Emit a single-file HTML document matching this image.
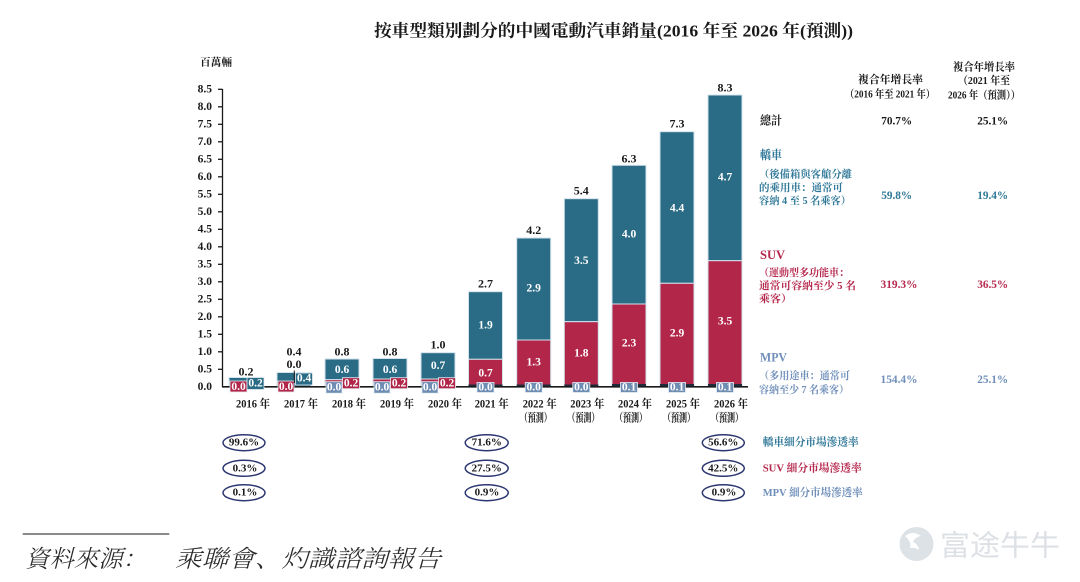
<!DOCTYPE html>
<html><head><meta charset="utf-8">
<style>
html,body{margin:0;padding:0;background:#fff;}
svg{display:block;}
text{font-family:"Liberation Serif","Noto Serif CJK SC","Noto Serif CJK TC",serif;}
.b{font-weight:bold;}
</style></head>
<body>
<svg width="1080" height="582" viewBox="0 0 1080 582" xmlns="http://www.w3.org/2000/svg">
<rect width="1080" height="582" fill="#fff"/>

<!-- Title -->
<text x="374" y="31" class="b" font-size="17" fill="#1a1a1a" dominant-baseline="central" textLength="479" lengthAdjust="spacingAndGlyphs">按車型類別劃分的中國電動汽車銷量(2016 年至 2026 年(預測))</text>

<!-- Unit -->
<text x="200" y="63" class="b" font-size="10.5" fill="#1a1a1a" dominant-baseline="central" textLength="32" lengthAdjust="spacingAndGlyphs">百萬輛</text>

<!-- Y axis -->
<g font-size="11.5" class="b" fill="#1a1a1a" text-anchor="end">
<text x="212" y="89.3" dominant-baseline="central">8.5</text>
<text x="212" y="106.8" dominant-baseline="central">8.0</text>
<text x="212" y="124.3" dominant-baseline="central">7.5</text>
<text x="212" y="141.8" dominant-baseline="central">7.0</text>
<text x="212" y="159.3" dominant-baseline="central">6.5</text>
<text x="212" y="176.8" dominant-baseline="central">6.0</text>
<text x="212" y="194.3" dominant-baseline="central">5.5</text>
<text x="212" y="211.8" dominant-baseline="central">5.0</text>
<text x="212" y="229.3" dominant-baseline="central">4.5</text>
<text x="212" y="246.8" dominant-baseline="central">4.0</text>
<text x="212" y="264.3" dominant-baseline="central">3.5</text>
<text x="212" y="281.8" dominant-baseline="central">3.0</text>
<text x="212" y="299.3" dominant-baseline="central">2.5</text>
<text x="212" y="316.8" dominant-baseline="central">2.0</text>
<text x="212" y="334.3" dominant-baseline="central">1.5</text>
<text x="212" y="351.8" dominant-baseline="central">1.0</text>
<text x="212" y="369.3" dominant-baseline="central">0.5</text>
<text x="212" y="386.8" dominant-baseline="central">0.0</text>
</g>
<g stroke="#1a1a1a" stroke-width="1.3">
<line x1="222.5" y1="89" x2="222.5" y2="387"/>
<line x1="218" y1="89.3" x2="222.5" y2="89.3"/>
<line x1="218" y1="106.8" x2="222.5" y2="106.8"/>
<line x1="218" y1="124.3" x2="222.5" y2="124.3"/>
<line x1="218" y1="141.8" x2="222.5" y2="141.8"/>
<line x1="218" y1="159.3" x2="222.5" y2="159.3"/>
<line x1="218" y1="176.8" x2="222.5" y2="176.8"/>
<line x1="218" y1="194.3" x2="222.5" y2="194.3"/>
<line x1="218" y1="211.8" x2="222.5" y2="211.8"/>
<line x1="218" y1="229.3" x2="222.5" y2="229.3"/>
<line x1="218" y1="246.8" x2="222.5" y2="246.8"/>
<line x1="218" y1="264.3" x2="222.5" y2="264.3"/>
<line x1="218" y1="281.8" x2="222.5" y2="281.8"/>
<line x1="218" y1="299.3" x2="222.5" y2="299.3"/>
<line x1="218" y1="316.8" x2="222.5" y2="316.8"/>
<line x1="218" y1="334.3" x2="222.5" y2="334.3"/>
<line x1="218" y1="351.8" x2="222.5" y2="351.8"/>
<line x1="218" y1="369.3" x2="222.5" y2="369.3"/>
</g>

<!-- Bars -->
<g stroke="#d3e3ec" stroke-width="1">
<!-- 2016 -->
<rect x="229" y="377.5" width="34" height="9.2" fill="#2a6b86"/>
<!-- 2017 -->
<rect x="277" y="372.5" width="34" height="14.2" fill="#2a6b86"/>
<!-- 2018 -->
<rect x="325" y="359" width="34" height="20.7" fill="#2a6b86"/>
<rect x="325" y="379.7" width="34" height="7" fill="#b2264a"/>
<!-- 2019 -->
<rect x="373" y="358.5" width="34" height="20.5" fill="#2a6b86"/>
<rect x="373" y="379" width="34" height="7.7" fill="#b2264a"/>
<!-- 2020 -->
<rect x="421" y="352.7" width="34" height="26.3" fill="#2a6b86"/>
<rect x="421" y="379" width="34" height="7.7" fill="#b2264a"/>
<!-- 2021 -->
<rect x="468.5" y="291.7" width="34" height="67.6" fill="#2a6b86"/>
<rect x="468.5" y="359.3" width="34" height="27.4" fill="#b2264a"/>
<!-- 2022 -->
<rect x="516.7" y="238" width="34" height="102" fill="#2a6b86"/>
<rect x="516.7" y="340" width="34" height="46.7" fill="#b2264a"/>
<!-- 2023 -->
<rect x="564.3" y="198.7" width="34" height="123" fill="#2a6b86"/>
<rect x="564.3" y="321.7" width="34" height="65" fill="#b2264a"/>
<!-- 2024 -->
<rect x="612" y="165.3" width="34" height="138.7" fill="#2a6b86"/>
<rect x="612" y="304" width="34" height="82.7" fill="#b2264a"/>
<!-- 2025 -->
<rect x="660" y="131.7" width="34" height="151.6" fill="#2a6b86"/>
<rect x="660" y="283.3" width="34" height="103.4" fill="#b2264a"/>
<!-- 2026 -->
<rect x="708" y="95" width="34" height="165.7" fill="#2a6b86"/>
<rect x="708" y="260.7" width="34" height="126" fill="#b2264a"/>
</g>
<!-- dark MPV strips -->
<g fill="#1f2a3a">
<rect x="468.5" y="384.5" width="34" height="2.5"/>
<rect x="516.7" y="384.5" width="34" height="2.5"/>
<rect x="564.3" y="384.5" width="34" height="2.5"/>
<rect x="612" y="384" width="34" height="3"/>
<rect x="660" y="384" width="34" height="3"/>
<rect x="708" y="384" width="34" height="3"/>
</g>
<!-- baseline -->
<line x1="222" y1="386.8" x2="748" y2="386.8" stroke="#1a1a1a" stroke-width="1.6"/>

<!-- small label boxes -->
<g stroke="#e6eef3" stroke-width="0.8">
<rect x="230" y="381" width="17" height="11" fill="#b2264a"/>
<rect x="247" y="377.5" width="17" height="12" fill="#2a6b86"/>
<rect x="278" y="381" width="16" height="11" fill="#b2264a"/>
<rect x="295.5" y="373" width="17" height="12" fill="#2a6b86"/>
<rect x="326" y="381.7" width="16" height="11.5" fill="#6f8db3"/>
<rect x="342.5" y="377.7" width="17" height="11" fill="#b2264a"/>
<rect x="374" y="381.7" width="16" height="11.5" fill="#6f8db3"/>
<rect x="390.5" y="377.7" width="17" height="11" fill="#b2264a"/>
<rect x="422" y="381.7" width="16" height="11.5" fill="#6f8db3"/>
<rect x="438.5" y="377.7" width="17" height="11" fill="#b2264a"/>
<rect x="477" y="382.5" width="17" height="10" fill="#6f8db3"/>
<rect x="525.2" y="382.5" width="17" height="10" fill="#6f8db3"/>
<rect x="572.8" y="382.5" width="17" height="10" fill="#6f8db3"/>
<rect x="620.5" y="382.5" width="17" height="10" fill="#6f8db3"/>
<rect x="668.5" y="382.5" width="17" height="10" fill="#6f8db3"/>
<rect x="716.5" y="382.5" width="17" height="10" fill="#6f8db3"/>
</g>
<line x1="294.3" y1="370.5" x2="294.3" y2="383" stroke="#1a1a1a" stroke-width="1"/>

<!-- white inner labels -->
<g class="b" font-size="11.5" fill="#fff" text-anchor="middle">
<text x="238.5" y="386.8" dominant-baseline="central">0.0</text>
<text x="255.5" y="383.5" dominant-baseline="central">0.2</text>
<text x="286" y="386.8" dominant-baseline="central">0.0</text>
<text x="304" y="378.5" dominant-baseline="central">0.4</text>
<text x="342" y="370" dominant-baseline="central">0.6</text>
<text x="334" y="387.5" dominant-baseline="central">0.0</text>
<text x="351" y="383.3" dominant-baseline="central">0.2</text>
<text x="390" y="370" dominant-baseline="central">0.6</text>
<text x="382" y="387.5" dominant-baseline="central">0.0</text>
<text x="399" y="383.3" dominant-baseline="central">0.2</text>
<text x="438" y="366" dominant-baseline="central">0.7</text>
<text x="430" y="387.5" dominant-baseline="central">0.0</text>
<text x="447" y="383.3" dominant-baseline="central">0.2</text>
<text x="485.5" y="325.7" dominant-baseline="central">1.9</text>
<text x="485.5" y="373.3" dominant-baseline="central">0.7</text>
<text x="485.5" y="387.5" dominant-baseline="central">0.0</text>
<text x="533.7" y="288.3" dominant-baseline="central">2.9</text>
<text x="533.7" y="362.7" dominant-baseline="central">1.3</text>
<text x="533.7" y="387.5" dominant-baseline="central">0.0</text>
<text x="581.3" y="261" dominant-baseline="central">3.5</text>
<text x="581.3" y="353.3" dominant-baseline="central">1.8</text>
<text x="581.3" y="387.5" dominant-baseline="central">0.0</text>
<text x="629" y="234.3" dominant-baseline="central">4.0</text>
<text x="629" y="343.3" dominant-baseline="central">2.3</text>
<text x="629" y="387.5" dominant-baseline="central">0.1</text>
<text x="677" y="208.3" dominant-baseline="central">4.4</text>
<text x="677" y="333.3" dominant-baseline="central">2.9</text>
<text x="677" y="387.5" dominant-baseline="central">0.1</text>
<text x="725" y="177.7" dominant-baseline="central">4.7</text>
<text x="725" y="321.7" dominant-baseline="central">3.5</text>
<text x="725" y="387.5" dominant-baseline="central">0.1</text>
</g>

<!-- totals -->
<g class="b" font-size="12" fill="#1a1a1a" text-anchor="middle">
<text x="246" y="371.7" dominant-baseline="central">0.2</text>
<text x="294" y="351.7" dominant-baseline="central">0.4</text>
<text x="294" y="364" dominant-baseline="central">0.0</text>
<text x="342" y="351.7" dominant-baseline="central">0.8</text>
<text x="390" y="351.7" dominant-baseline="central">0.8</text>
<text x="438" y="344.3" dominant-baseline="central">1.0</text>
<text x="485.5" y="283.3" dominant-baseline="central">2.7</text>
<text x="533.7" y="230" dominant-baseline="central">4.2</text>
<text x="581.3" y="190.7" dominant-baseline="central">5.4</text>
<text x="629" y="158.7" dominant-baseline="central">6.3</text>
<text x="677" y="123.3" dominant-baseline="central">7.3</text>
<text x="725" y="87.3" dominant-baseline="central">8.3</text>
</g>

<!-- x labels -->
<g class="b" font-size="11.5" fill="#1a1a1a" text-anchor="middle">
<text x="253" y="404.3" dominant-baseline="central" textLength="34" lengthAdjust="spacingAndGlyphs">2016 年</text>
<text x="301" y="404.3" dominant-baseline="central" textLength="34" lengthAdjust="spacingAndGlyphs">2017 年</text>
<text x="349" y="404.3" dominant-baseline="central" textLength="34" lengthAdjust="spacingAndGlyphs">2018 年</text>
<text x="397" y="404.3" dominant-baseline="central" textLength="34" lengthAdjust="spacingAndGlyphs">2019 年</text>
<text x="445" y="404.3" dominant-baseline="central" textLength="34" lengthAdjust="spacingAndGlyphs">2020 年</text>
<text x="491.7" y="404.3" dominant-baseline="central" textLength="34" lengthAdjust="spacingAndGlyphs">2021 年</text>
<text x="539.7" y="404.3" dominant-baseline="central" textLength="34" lengthAdjust="spacingAndGlyphs">2022 年</text>
<text x="587.3" y="404.3" dominant-baseline="central" textLength="34" lengthAdjust="spacingAndGlyphs">2023 年</text>
<text x="635" y="404.3" dominant-baseline="central" textLength="34" lengthAdjust="spacingAndGlyphs">2024 年</text>
<text x="683" y="404.3" dominant-baseline="central" textLength="34" lengthAdjust="spacingAndGlyphs">2025 年</text>
<text x="731" y="404.3" dominant-baseline="central" textLength="34" lengthAdjust="spacingAndGlyphs">2026 年</text>
<text x="535.8" y="418.3" dominant-baseline="central" textLength="32" lengthAdjust="spacingAndGlyphs">（預測）</text>
<text x="583.4" y="418.3" dominant-baseline="central" textLength="32" lengthAdjust="spacingAndGlyphs">（預測）</text>
<text x="631" y="418.3" dominant-baseline="central" textLength="32" lengthAdjust="spacingAndGlyphs">（預測）</text>
<text x="679" y="418.3" dominant-baseline="central" textLength="32" lengthAdjust="spacingAndGlyphs">（預測）</text>
<text x="727" y="418.3" dominant-baseline="central" textLength="32" lengthAdjust="spacingAndGlyphs">（預測）</text>
</g>

<!-- Right panel headers -->
<g class="b" font-size="11" fill="#1a1a1a" text-anchor="middle">
<text x="890.5" y="80" dominant-baseline="central" textLength="65" lengthAdjust="spacingAndGlyphs">複合年增長率</text>
<text x="890" y="94.3" dominant-baseline="central" textLength="90" lengthAdjust="spacingAndGlyphs">（2016 年至 2021 年）</text>
<text x="984" y="67.7" dominant-baseline="central" textLength="62" lengthAdjust="spacingAndGlyphs">複合年增長率</text>
<text x="984" y="81" dominant-baseline="central" textLength="52" lengthAdjust="spacingAndGlyphs">（2021 年至</text>
<text x="984" y="95.7" dominant-baseline="central" textLength="72" lengthAdjust="spacingAndGlyphs">2026 年（預測））</text>
</g>

<!-- Total row -->
<g class="b" font-size="12" fill="#1a1a1a">
<text x="760" y="120.7" dominant-baseline="central" textLength="22" lengthAdjust="spacingAndGlyphs">總計</text>
<text x="896.7" y="120.7" text-anchor="middle" dominant-baseline="central" textLength="31" lengthAdjust="spacingAndGlyphs">70.7%</text>
<text x="992.7" y="120.7" text-anchor="middle" dominant-baseline="central" textLength="31" lengthAdjust="spacingAndGlyphs">25.1%</text>
</g>

<!-- Sedan -->
<g class="b" fill="#2f7898">
<text x="760" y="155" font-size="12" dominant-baseline="central" textLength="22" lengthAdjust="spacingAndGlyphs">轎車</text>
<text x="759" y="175" font-size="10.5" dominant-baseline="central" textLength="93" lengthAdjust="spacingAndGlyphs">（後備箱與客艙分離</text>
<text x="759" y="188.3" font-size="10.5" dominant-baseline="central" textLength="84" lengthAdjust="spacingAndGlyphs">的乘用車：通常可</text>
<text x="759" y="201.7" font-size="10.5" dominant-baseline="central" textLength="92" lengthAdjust="spacingAndGlyphs">容納 4 至 5 名乘客）</text>
<text x="896.7" y="195" font-size="12" text-anchor="middle" dominant-baseline="central" textLength="31" lengthAdjust="spacingAndGlyphs">59.8%</text>
<text x="992.7" y="195" font-size="12" text-anchor="middle" dominant-baseline="central" textLength="31" lengthAdjust="spacingAndGlyphs">19.4%</text>
</g>

<!-- SUV -->
<g class="b" fill="#b5284d">
<text x="760" y="255" font-size="12.5" dominant-baseline="central" textLength="25" lengthAdjust="spacingAndGlyphs">SUV</text>
<text x="759" y="273.3" font-size="10.5" dominant-baseline="central" textLength="90" lengthAdjust="spacingAndGlyphs">（運動型多功能車：</text>
<text x="759" y="286.7" font-size="10.5" dominant-baseline="central" textLength="97" lengthAdjust="spacingAndGlyphs">通常可容納至少 5 名</text>
<text x="759" y="299.3" font-size="10.5" dominant-baseline="central" textLength="33" lengthAdjust="spacingAndGlyphs">乘客）</text>
<text x="899" y="284" font-size="12" text-anchor="middle" dominant-baseline="central" textLength="37" lengthAdjust="spacingAndGlyphs">319.3%</text>
<text x="992.7" y="284" font-size="12" text-anchor="middle" dominant-baseline="central" textLength="31" lengthAdjust="spacingAndGlyphs">36.5%</text>
</g>

<!-- MPV -->
<g class="b" fill="#6f8fba">
<text x="760" y="357.3" font-size="12.5" dominant-baseline="central" textLength="27" lengthAdjust="spacingAndGlyphs">MPV</text>
<text x="759" y="376.7" font-size="10.5" dominant-baseline="central" textLength="91" lengthAdjust="spacingAndGlyphs">（多用途車：通常可</text>
<text x="759" y="390.7" font-size="10.5" dominant-baseline="central" textLength="90" lengthAdjust="spacingAndGlyphs">容納至少 7 名乘客）</text>
<text x="899" y="379" font-size="12" text-anchor="middle" dominant-baseline="central" textLength="37" lengthAdjust="spacingAndGlyphs">154.4%</text>
<text x="992.7" y="379" font-size="12" text-anchor="middle" dominant-baseline="central" textLength="31" lengthAdjust="spacingAndGlyphs">25.1%</text>
</g>

<!-- Ovals -->
<g fill="none" stroke="#2c3670" stroke-width="1.5">
<ellipse cx="244" cy="442.7" rx="21" ry="8"/>
<ellipse cx="244" cy="468.3" rx="21" ry="8"/>
<ellipse cx="244" cy="492.7" rx="21" ry="8"/>
<ellipse cx="486.7" cy="442.7" rx="21.5" ry="8"/>
<ellipse cx="486.7" cy="468.3" rx="21.5" ry="8"/>
<ellipse cx="486.7" cy="492.7" rx="21.5" ry="8"/>
<ellipse cx="723.3" cy="442.7" rx="21" ry="8"/>
<ellipse cx="723.3" cy="468.3" rx="21" ry="8"/>
<ellipse cx="723.3" cy="492.7" rx="21" ry="8"/>
</g>
<g class="b" font-size="11" fill="#1a1a1a" text-anchor="middle">
<text x="244" y="442.7" dominant-baseline="central">99.6%</text>
<text x="245" y="468.3" dominant-baseline="central">0.3%</text>
<text x="245" y="492.7" dominant-baseline="central">0.1%</text>
<text x="486.7" y="442.7" dominant-baseline="central">71.6%</text>
<text x="486.7" y="468.3" dominant-baseline="central">27.5%</text>
<text x="487" y="492.7" dominant-baseline="central">0.9%</text>
<text x="723.3" y="442.7" dominant-baseline="central">56.6%</text>
<text x="723.3" y="468.3" dominant-baseline="central">42.5%</text>
<text x="724" y="492.7" dominant-baseline="central">0.9%</text>
</g>
<g class="b" font-size="11">
<text x="762.7" y="442.7" fill="#2f7898" dominant-baseline="central" textLength="96" lengthAdjust="spacingAndGlyphs">轎車細分市場滲透率</text>
<text x="762.7" y="468.3" fill="#b5284d" dominant-baseline="central" textLength="99" lengthAdjust="spacingAndGlyphs">SUV 細分市場滲透率</text>
<text x="762.7" y="493" fill="#6f8fba" dominant-baseline="central" textLength="100" lengthAdjust="spacingAndGlyphs">MPV 細分市場滲透率</text>
</g>

<!-- Source -->
<line x1="22.7" y1="534" x2="169.3" y2="534" stroke="#444" stroke-width="1.3"/>
<g font-size="24" fill="#2a2a2a" font-style="italic" font-weight="300">
<text x="25" y="560" dominant-baseline="central" textLength="122" lengthAdjust="spacingAndGlyphs">資料來源：</text>
<text x="175" y="560" dominant-baseline="central" textLength="266" lengthAdjust="spacingAndGlyphs">乘聯會、灼識諮詢報告</text>
</g>

<!-- Watermark -->
<circle cx="916.5" cy="544" r="17" fill="#dde2e7"/>
<path d="M905 536 q8 -6 16 0 q-6 1 -8 6 q5 2 6 8 q-4 -3 -9 -2 q2 -6 -5 -12z" fill="#fff"/>
<text x="940" y="543.3" font-size="29" fill="#dde1e6" dominant-baseline="central" style="font-family:'Noto Sans CJK SC',sans-serif" textLength="120" lengthAdjust="spacingAndGlyphs">富途牛牛</text>
</svg>
</body></html>
